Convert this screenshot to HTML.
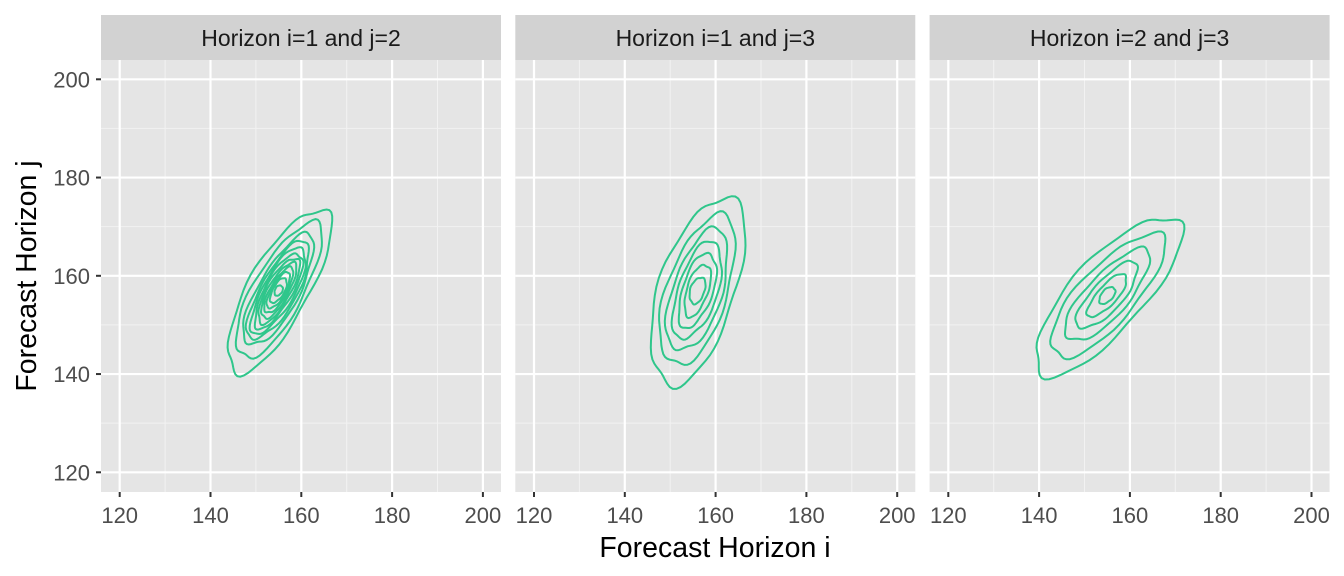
<!DOCTYPE html><html><head><style>body{margin:0;background:#fff}svg{display:block}</style></head><body>
<svg id="s" width="1344" height="576" xmlns="http://www.w3.org/2000/svg" font-family="Liberation Sans, sans-serif"></svg>
<script>
const s=document.getElementById('s');let h='';
const X0=119.7,SX=4.54,Y0=472.3,SY=4.9125;
const offs=[0,414.3,828.6];const labels=['Horizon i=1 and j=2','Horizon i=1 and j=3','Horizon i=2 and j=3'];
const cont=[
 {c:[155,157],a:92,b:30,ang:-61,sc:[1,.83,.68,.6,.53,.46,.4,.34,.28,.22,.15,.06]},
 {c:[156,157],a:98,b:38,ang:-72,sc:[1,.8,.65,.52,.4,.28,.14]},
 {c:[155,156],a:102,b:36,ang:-48,sc:[1,.78,.58,.42,.27,.1]}];
offs.forEach((o,p)=>{
 const L=101+o,R=501+o;
 h+=`<rect x="${L}" y="60" width="400" height="432" fill="#e5e5e5"/>`;
 h+=`<rect x="${L}" y="15" width="400" height="45" fill="#d2d2d2"/>`;
 h+=`<text x="${L+200}" y="46" font-size="23" text-anchor="middle" fill="#1a1a1a">${labels[p]}</text>`;
 for(let v=130;v<=190;v+=20){const x=X0+o+(v-120)*SX;h+=`<line x1="${x}" x2="${x}" y1="60" y2="492" stroke="#f2f2f2" stroke-width="1"/>`;const y=Y0-(v-120)*SY;h+=`<line x1="${L}" x2="${R}" y1="${y}" y2="${y}" stroke="#f2f2f2" stroke-width="1"/>`;}
 for(let v=120;v<=200;v+=20){const x=X0+o+(v-120)*SX;h+=`<line x1="${x}" x2="${x}" y1="60" y2="492" stroke="#fff" stroke-width="2.2"/>`;const y=Y0-(v-120)*SY;h+=`<line x1="${L}" x2="${R}" y1="${y}" y2="${y}" stroke="#fff" stroke-width="2.2"/>`;
  h+=`<line x1="${x}" x2="${x}" y1="492" y2="497" stroke="#333" stroke-width="2"/><text x="${x}" y="523" font-size="22" text-anchor="middle" fill="#4d4d4d">${v}</text>`;}
 const C=cont[p];const cx=X0+o+(C.c[0]-120)*SX,cy=Y0-(C.c[1]-120)*SY;const t=C.ang*Math.PI/180;
 C.sc.forEach((k,i)=>{let d='';for(let j=0;j<=72;j++){const th=j/72*2*Math.PI;const w=1+0.04*Math.sin(3*th+i)+0.03*Math.sin(7*th+2*i);const ex=C.a*k*Math.cos(th)*w,ey=C.b*Math.max(k,0.25)*Math.sqrt(k/Math.max(k,0.25))*Math.sin(th)*w;const x=cx+ex*Math.cos(t)-ey*Math.sin(t),y=cy+ex*Math.sin(t)+ey*Math.cos(t);d+=(j?'L':'M')+x.toFixed(1)+' '+y.toFixed(1);}
 h+=`<path d="${d}Z" fill="none" stroke="#2fc68b" stroke-width="2"/>`;});
});
for(let v=120;v<=200;v+=20){const y=Y0-(v-120)*SY;h+=`<line x1="96" x2="101" y1="${y}" y2="${y}" stroke="#333" stroke-width="2"/><text x="90" y="${y+8}" font-size="22" text-anchor="end" fill="#4d4d4d">${v}</text>`;}
h+=`<text x="715" y="557" font-size="28.5" text-anchor="middle">Forecast Horizon i</text>`;
h+=`<text transform="translate(36,276) rotate(-90)" font-size="28.5" text-anchor="middle">Forecast Horizon j</text>`;
s.innerHTML=h;
</script></body></html>
